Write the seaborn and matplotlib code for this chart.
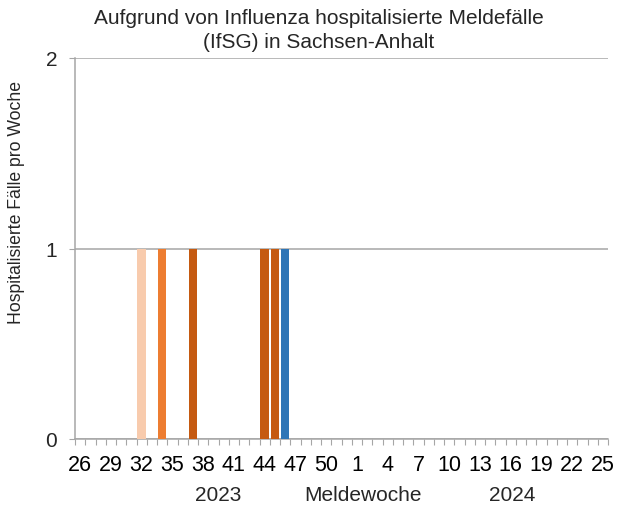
import matplotlib
matplotlib.use("Agg")
import matplotlib.pyplot as plt
import seaborn as sns
import pandas as pd
import numpy as np

# ---- data ----
weeks = [26, 27, 28, 29, 30, 31, 32, 33, 34, 35, 36, 37, 38, 39, 40, 41, 42, 43, 44, 45,
         46, 47, 48, 49, 50, 51, 52, 1, 2, 3, 4, 5, 6, 7, 8, 9, 10, 11, 12, 13, 14, 15,
         16, 17, 18, 19, 20, 21, 22, 23, 24, 25]
tick_labels = ["26", "29", "32", "35", "38", "41", "44", "47", "50", "1", "4", "7",
               "10", "13", "16", "19", "22", "25"]
series_names = ["Influenza A (nicht subtypisiert)", "Influenza A(H1N1)pdm09",
                "Influenza A(H3N2)", "Influenza B"]
s_peach = [0, 0, 0, 0, 0, 0, 1, 0, 0, 0, 0, 0, 0, 0, 0, 0, 0, 0, 0, 0, 0, 0, 0, 0, 0, 0,
           0, 0, 0, 0, 0, 0, 0, 0, 0, 0, 0, 0, 0, 0, 0, 0, 0, 0, 0, 0, 0, 0, 0, 0, 0, 0]
s_orange = [0, 0, 0, 0, 0, 0, 0, 0, 1, 0, 0, 0, 0, 0, 0, 0, 0, 0, 0, 0, 0, 0, 0, 0, 0, 0,
            0, 0, 0, 0, 0, 0, 0, 0, 0, 0, 0, 0, 0, 0, 0, 0, 0, 0, 0, 0, 0, 0, 0, 0, 0, 0]
s_dark = [0, 0, 0, 0, 0, 0, 0, 0, 0, 0, 0, 1, 0, 0, 0, 0, 0, 0, 1, 1, 0, 0, 0, 0, 0, 0,
          0, 0, 0, 0, 0, 0, 0, 0, 0, 0, 0, 0, 0, 0, 0, 0, 0, 0, 0, 0, 0, 0, 0, 0, 0, 0]
s_blue = [0, 0, 0, 0, 0, 0, 0, 0, 0, 0, 0, 0, 0, 0, 0, 0, 0, 0, 0, 0, 1, 0, 0, 0, 0, 0,
          0, 0, 0, 0, 0, 0, 0, 0, 0, 0, 0, 0, 0, 0, 0, 0, 0, 0, 0, 0, 0, 0, 0, 0, 0, 0]
colors = ["#F8CBAD", "#ED7D31", "#C55A11", "#2E75B6"]

sns.set_theme(style="white")
plt.rcParams["font.family"] = ["Liberation Sans", "DejaVu Sans"]

fig = plt.figure(figsize=(6.17, 5.06), dpi=100)
ax = fig.add_axes([75 / 617, 1 - 440 / 506, 533 / 617, 381 / 506])

cats = [f"{i:02d}" for i in range(len(weeks))]
bottom = np.zeros(len(weeks))
for name, vals, col in zip(series_names, [s_peach, s_orange, s_dark, s_blue], colors):
    df = pd.DataFrame({"cat": cats, "value": vals})
    sns.barplot(data=df, x="cat", y="value", order=cats, color=col, saturation=1,
                width=0.82, bottom=bottom, linewidth=0, errorbar=None, ax=ax, zorder=3)
    bottom = bottom + np.array(vals)

grid_col = "#A6A6A6"
ax.set_ylim(0, 2)
ax.set_xlim(-0.5, len(weeks) - 0.5)
ax.set_yticks([0, 1, 2])
ax.set_yticklabels(["0", "1", "2"], fontsize=15)
ax.yaxis.grid(True, color=grid_col, linewidth=1.1, zorder=0)
ax.set_axisbelow(True)

label_pos = [weeks.index(int(t)) if int(t) >= 26 else weeks.index(int(t), 27) for t in tick_labels]
ax.set_xticks(label_pos)
ax.set_xticklabels(tick_labels, fontsize=15.5)
ax.set_xticks(np.arange(-0.5, len(weeks), 1.0), minor=True)
ax.tick_params(axis="x", which="major", length=0, pad=10.5, colors="black")
ax.tick_params(axis="x", which="minor", length=4.2, width=0.8, color=grid_col,
               direction="out", bottom=True)
ax.tick_params(axis="y", which="major", length=4.3, width=0.8, color=grid_col,
               direction="out", left=True, pad=8.5)

for s in ["top", "right"]:
    ax.spines[s].set_visible(False)
for s in ["left", "bottom"]:
    ax.spines[s].set_color(grid_col)
    ax.spines[s].set_linewidth(1.1)

ax.set_xlabel("")
ax.set_ylabel("")
fig.text(17 / 617, 1 - 202 / 506, "Hospitalisierte Fälle pro Woche", rotation=90,
         ha="center", va="center", fontsize=12.7)

fig.text(319 / 617, 1 - 19 / 506, "Aufgrund von Influenza hospitalisierte Meldefälle",
         ha="center", va="center", fontsize=15)
fig.text(319 / 617, 1 - 43 / 506, "(IfSG) in Sachsen-Anhalt",
         ha="center", va="center", fontsize=15)

fig.text(218 / 617, 1 - 496 / 506, "2023", ha="center", va="center", fontsize=15)
fig.text(363 / 617, 1 - 496 / 506, "Meldewoche", ha="center", va="center", fontsize=15)
fig.text(512 / 617, 1 - 496 / 506, "2024", ha="center", va="center", fontsize=15)

fig.savefig("out.png", dpi=100)
